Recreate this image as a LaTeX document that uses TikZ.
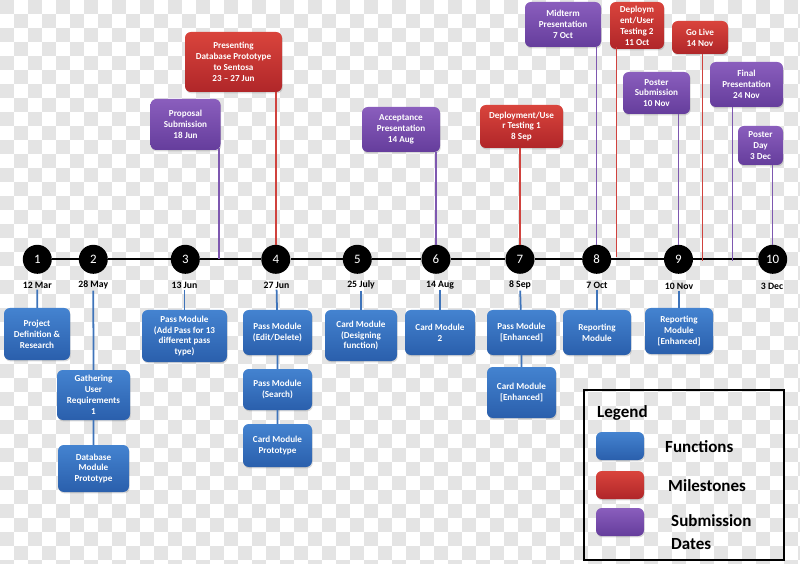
\documentclass[tikz,border=0pt]{standalone}
\usepackage{fontspec}
\setmainfont{Carlito}
\usetikzlibrary{shadows}
\definecolor{bluetop}{HTML}{4483D0}
\definecolor{bluebot}{HTML}{2A5FAC}
\definecolor{redtop}{HTML}{D9443C}
\definecolor{redbot}{HTML}{B02629}
\definecolor{purtop}{HTML}{8A5EBD}
\definecolor{purbot}{HTML}{653D9C}
\definecolor{blueln}{HTML}{3F74BA}
\definecolor{redln}{HTML}{D0423E}
\definecolor{purln}{HTML}{7E58B0}
\definecolor{checkgray}{HTML}{E4E4E4}
\tikzset{
  sz/.style 2 args={minimum width=#1*0.03cm, minimum height=#2*0.03cm},
  boxbase/.style={rounded corners=5pt, align=center, text=white, inner sep=1pt,
    font=\bfseries\fontsize{7.8}{9.3}\selectfont,
    drop shadow={shadow xshift=0.6pt, shadow yshift=-1.2pt, opacity=0.3}},
  fnbox/.style={boxbase, top color=bluetop, bottom color=bluebot},
  msbox/.style={boxbase, top color=redtop, bottom color=redbot},
  sbbox/.style={boxbase, top color=purtop, bottom color=purbot},
  num/.style={circle, fill=black, text=white, inner sep=0pt, minimum size=29*0.03cm,
    font=\fontsize{11}{13}\selectfont},
  date/.style={inner sep=1pt, font=\bfseries\fontsize{8.3}{9}\selectfont},
  tline/.style={draw=black, line width=2pt},
  fline/.style={draw=blueln, line width=1.5pt},
  mline/.style={draw=redln, line width=1.3pt},
  sline/.style={draw=purln, line width=1.3pt},
  legtext/.style={anchor=west, align=left, inner sep=0pt, font=\bfseries\fontsize{14.5}{19}\selectfont},
}
\begin{document}
\begin{tikzpicture}[x=0.03cm, y=-0.03cm]
  \useasboundingbox (0,0) rectangle (800,564);
  % background pattern
  \foreach \j in {0,...,40}{
    \foreach \i in {0,28,...,812}{
      \fill[checkgray] ({\i+14*mod(\j,2)},{\j*14}) rectangle +(14,14);
    }
  }

  % timeline
  \node[num] (c1) at (37.3,259.3) {1};
  \node[num] (c2) at (93.3,259.3) {2};
  \node[num] (c3) at (185.3,259.3) {3};
  \node[num] (c4) at (275.8,259.3) {4};
  \node[num] (c5) at (357.3,259.3) {5};
  \node[num] (c6) at (436,259.3) {6};
  \node[num] (c7) at (520,259.3) {7};
  \node[num] (c8) at (596.7,259.3) {8};
  \node[num] (c9) at (678.5,259.3) {9};
  \node[num] (c10) at (772.7,259.3) {10};
  \coordinate (t3) at (219,259.3);
  \coordinate (t8) at (616.7,257.5);
  \coordinate (t9a) at (702.5,261);
  \coordinate (t9b) at (732.5,261);

  \node[date] (d1) at (37.3,285) {12 Mar};
  \node[date] (d2) at (93.3,285) {28 May};
  \node[date] (d3) at (184.5,285) {13 Jun};
  \node[date] (d4) at (276.5,285) {27 Jun};
  \node[date] (d5) at (361,285) {25 July};
  \node[date] (d6) at (440,285) {14 Aug};
  \node[date] (d7) at (520,285) {8 Sep};
  \node[date] (d8) at (597,285) {7 Oct};
  \node[date] (d9) at (679,286) {10 Nov};
  \node[date] (d10) at (772,286) {3 Dec};

  % milestones and submissions
  \node[msbox, sz={97}{60}] (pres) at (233.5,62) {Presenting\\Database Prototype\\to Sentosa\\23 -- 27 Jun};
  \node[sbbox, sz={70}{51}] (prop) at (185.5,124.5) {Proposal\\Submission\\18 Jun};
  \node[sbbox, sz={78}{45}] (accp) at (401,129.5) {Acceptance\\Presentation\\14 Aug};
  \node[msbox, sz={83}{43}] (dep1) at (521.5,126.5) {Deployment/Use\\r Testing 1\\8 Sep};
  \node[sbbox, sz={76}{45}] (mid) at (563,24.5) {Midterm\\Presentation\\7 Oct};
  \node[msbox, sz={54}{47}] (dep2) at (637,25.5) {Deploym\\ent/User\\Testing 2\\11 Oct};
  \node[msbox, sz={56}{33}] (golive) at (700,37.5) {Go Live\\14 Nov};
  \node[sbbox, sz={67}{42}] (psub) at (656.5,93) {Poster\\Submission\\10 Nov};
  \node[sbbox, sz={73}{45}] (final) at (746.5,84.5) {Final\\Presentation\\24 Nov};
  \node[sbbox, sz={45}{39}] (pday) at (760.5,145.5) {Poster\\Day\\3 Dec};

  % functions
  \node[fnbox, sz={66}{52}] (projdef) at (37,334) {Project\\Definition \&\\Research};
  \node[fnbox, sz={73}{50}] (gather) at (93.5,395) {Gathering\\User\\Requirements\\1};
  \node[fnbox, sz={71}{47}] (dbmod) at (93.5,468.5) {Database\\Module\\Prototype};
  \node[fnbox, sz={85}{52}] (passadd) at (184.5,336) {Pass Module\\(Add Pass for 13\\different pass\\type)};
  \node[fnbox, sz={69}{45}] (passedit) at (277.5,332.5) {Pass Module\\(Edit/Delete)};
  \node[fnbox, sz={69}{41}] (passsrch) at (277.5,389.5) {Pass Module\\(Search)};
  \node[fnbox, sz={69}{43}] (cardproto) at (277.5,445.5) {Card Module\\Prototype};
  \node[fnbox, sz={72}{51}] (carddes) at (361,335.5) {Card Module\\(Designing\\function)};
  \node[fnbox, sz={70}{45}] (cardtwo) at (440,332.5) {Card Module\\2};
  \node[fnbox, sz={69}{45}] (passenh) at (521.5,332.5) {Pass Module\\{[}Enhanced{]}};
  \node[fnbox, sz={69}{51}] (cardenh) at (521.5,392.5) {Card Module\\{[}Enhanced{]}};
  \node[fnbox, sz={68}{45}] (report) at (597,332.5) {Reporting\\Module};
  \node[fnbox, sz={68}{46}] (reportenh) at (679,331) {Reporting\\Module\\{[}Enhanced{]}};

  % connectors
  \draw[tline] (c1) -- (c2);
  \draw[tline] (c2) -- (c3);
  \draw[tline] (c3) -- (c4);
  \draw[tline] (c4) -- (c5);
  \draw[tline] (c5) -- (c6);
  \draw[tline] (c6) -- (c7);
  \draw[tline] (c7) -- (c8);
  \draw[tline] (c8) -- (c9);
  \draw[tline] (c9) -- (c10);
  \draw[mline] (pres.south -| c4) -- (c4);
  \draw[sline] ([yshift=1.5pt]prop.south -| t3) -- (t3);
  \draw[sline] (accp.south -| c6) -- (c6);
  \draw[mline] (dep1.south -| c7) -- (c7);
  \draw[sline] (mid.south -| c8) -- (c8);
  \draw[mline] ([yshift=1.5pt]dep2.south -| t8) -- (t8);
  \draw[mline] (golive.south -| t9a) -- (t9a);
  \draw[sline] (psub.south -| c9) -- (c9);
  \draw[sline] (final.south -| t9b) -- (t9b);
  \draw[sline] (pday.south -| c10) -- (c10);

  \draw[fline] (d1) -- (projdef);
  \draw[fline] (d2) -- (gather) -- (dbmod);
  \draw[fline] (d3) -- (passadd);
  \draw[fline] (d4) -- (passedit) -- (passsrch) -- (cardproto);
  \draw[fline] (d5) -- (carddes);
  \draw[fline] (d6) -- (cardtwo);
  \draw[fline] (d7) -- (passenh) -- (cardenh);
  \draw[fline] (d8) -- (report);
  \draw[fline] (d9) -- (reportenh);

  % legend
  \draw[line width=1.3pt] (584,390) rectangle (784,560);
  \node[legtext] (legtitle) at (597,413) {Legend};
  \node[fnbox, sz={48}{28}] (legblue) at (620,446) {};
  \node[msbox, sz={48}{28}] (legred) at (620,485) {};
  \node[sbbox, sz={48}{28}] (legpur) at (620,522) {};
  \node[legtext] (legfn) at (665,447) {Functions};
  \node[legtext] (legms) at (668,486) {Milestones};
  \node[legtext] (legsb) at (671,532) {Submission\\Dates};
\end{tikzpicture}
\end{document}
